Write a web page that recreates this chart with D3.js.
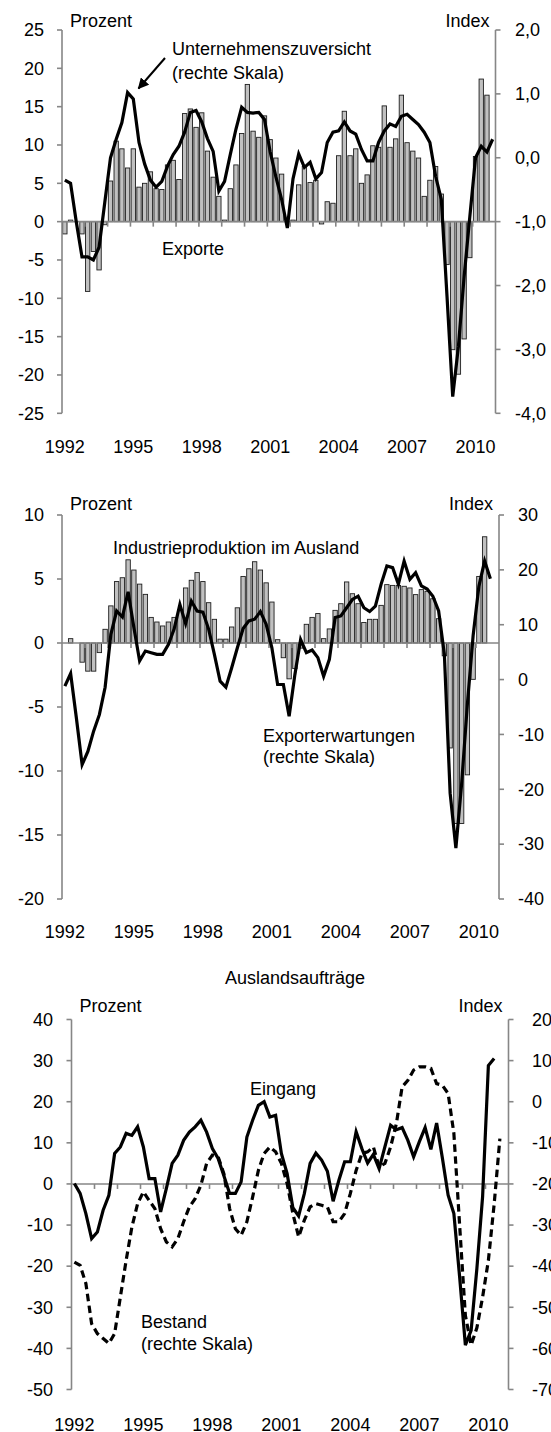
<!DOCTYPE html>
<html>
<head>
<meta charset="utf-8">
<script src="https://cdn.jsdelivr.net/npm/d3@7"></script>
<style>
  body { margin: 0; background: #fff; }
  svg { display: block; }
  text { font-family: "Liberation Sans", Arial, sans-serif; font-size: 18px; fill: #000; }
  .axis { stroke: #868686; stroke-width: 1.6; fill: none; }
  .bar { fill: #c0c0c0; stroke: #1e1e1e; stroke-width: 0.9; }
  .line { fill: none; stroke: #000; stroke-width: 3.2; }
</style>
</head>
<body>
<div id="chart"></div>
<script>
const width = 551,
    height = 1432;

// Quarterly categories 1992Q1 .. 2010Q4
const quarters = d3.range(1992, 2011).flatMap(y => [1, 2, 3, 4].map(q => y + "Q" + q));
const yearLabels = ["1992", "1995", "1998", "2001", "2004", "2007", "2010"];

// Panel 1: Exporte (bars, %) and Unternehmenszuversicht (line, index)
const exporte = [-1.6, 0.2, 0, -1.6, -9.1, -3.9, -6.3, -0.4, 5.3, 10.5,
    9.5, 7.0, 9.5, 4.5, 5.0, 6.5, 4.3, 4.2, 7.4, 8.0,
    5.5, 14.1, 14.7, 12.3, 14.2, 9.2, 5.8, 3.3, 0.2, 4.3,
    7.4, 11.5, 17.9, 11.8, 11.0, 13.8, 10.7, 8.3, 6.2, 0,
    0.2, 4.8, 7.2, 5.1, 5.4, -0.3, 2.6, 2.4, 8.6, 14.4,
    8.6, 9.5, 5.0, 6.1, 9.9, 9.7, 15.1, 9.7, 10.8, 16.5,
    10.3, 9.2, 8.3, 3.3, 5.4, 7.2, 3.6, -5.6, -16.7, -19.9,
    -15.3, -4.7, 8.5, 18.6, 16.5];
const zuversicht = [-0.35, -0.40, -1.0, -1.55, -1.55, -1.6, -1.4, -0.7, 0.0, 0.29,
    0.55, 1.02, 0.92, 0.24, -0.1, -0.35, -0.46, -0.37, -0.13, 0.05,
    0.18, 0.4, 0.71, 0.74, 0.56, 0.3, 0.1, -0.52, -0.37, 0.05,
    0.45, 0.79, 0.71, 0.7, 0.71, 0.6, 0.09, -0.3, -0.65, -1.1,
    -0.33, 0.06, -0.15, -0.07, -0.33, -0.23, 0.24, 0.4, 0.42, 0.56,
    0.42, 0.37, 0.13, -0.05, -0.05, 0.24, 0.42, 0.53, 0.49, 0.65,
    0.68, 0.6, 0.52, 0.4, 0.24, -0.29, -0.65, -2.17, -3.74, -2.95,
    -1.86, -0.92, 0.0, 0.18, 0.09, 0.29];

// Panel 2: Industrieproduktion im Ausland (bars, %) and Exporterwartungen (line, index)
const industrie = [0, 0.34, 0, -1.5, -2.2, -2.2, -0.75, 1.07, 2.9, 4.8,
    5.1, 6.5, 5.7, 4.6, 3.8, 2.0, 1.64, 1.33, 1.64, 2.0,
    2.6, 4.3, 4.9, 5.5, 4.8, 3.15, 1.85, 0.3, 0.3, 1.25,
    2.75, 5.2, 5.8, 6.35, 5.7, 4.7, 3.2, 0.26, -1.15, -2.8,
    -2.0, -0.4, 1.46, 2.0, 2.3, 0.34, 1.1, 2.55, 3.07, 4.77,
    3.85, 3.07, 1.6, 1.85, 1.85, 2.94, 4.56, 4.5, 4.5, 4.43,
    4.3, 3.78, 4.17, 4.04, 3.46, 1.9, -1.0, -8.2, -14.1, -14.1,
    -10.3, -2.84, 5.2, 8.3];
const exporterwartungen = [-1.2, 1.1, -7, -15.5, -13.1, -9.4, -6.4, -1.4, 8.25, 12.5,
    11.4, 16.0, 9.5, 3.4, 5.2, 4.9, 4.6, 4.6, 6.4, 9.2,
    13.7, 10.2, 14.3, 12.5, 12.3, 9.2, 4.6, -0.3, -1.4, 2.1,
    5.8, 9.3, 10.7, 11.0, 12.4, 10.1, 5.8, -0.9, -0.9, -6.7,
    0.9, 7.3, 4.9, 5.4, 4.0, 0.6, 3.7, 11.3, 11.6, 13.1,
    14.6, 15.2, 13.1, 12.4, 13.4, 17.4, 20.7, 20.4, 17.4, 21.6,
    18.3, 19.5, 17.1, 16.5, 15.2, 12.5, 4.6, -20.7, -30.7, -19,
    -4.5, 8, 17, 21.6, 18.4];

// Panel 3: Auslandsauftraege, Eingang (%) and Bestand (index, dashed)
const eingang = [0.1, -2.3, -7.2, -13.3, -11.7, -6.4, -2.75, 7.4, 9.0, 12.3,
    11.8, 13.9, 9.0, 1.3, 1.3, -6.8, -1.1, 5.0, 7.0, 10.6,
    12.6, 13.9, 15.5, 12.6, 8.6, 6.2, 2.0, -2.3, -2.3, 0.5,
    11.4, 15.5, 19.1, 20.0, 16.3, 16.7, 7.4, 2.5, -5.8, -7.8,
    -2.3, 5.0, 7.5, 5.8, 3.1, -4.2, 0.9, 5.4, 5.4, 12.7,
    8.6, 5.1, 7.2, 3.7, 9.0, 14.3, 13.2, 13.7, 10.6, 6.6,
    10.3, 13.7, 8.4, 14.8, 6.3, -2.75, -7.2, -22.6, -39.2, -35.6,
    -20.6, -3, 28.8, 30.5];
const bestand = [-39.0, -39.8, -44.2, -54.0, -56.4, -57.6, -58.8, -56.4, -47.5, -38.6,
    -30.5, -24.8, -21.9, -24.0, -26.0, -30.9, -34.1, -35.3, -33.3, -29.2,
    -25.6, -23.6, -20.3, -15.0, -13.0, -13.4, -17.5, -26.0, -30.9, -32.5,
    -29.2, -23.2, -16.7, -12.6, -11.0, -12.2, -15.0, -19.9, -27.2, -32.9,
    -28.8, -25.6, -24.8, -25.2, -25.6, -29.2, -29.2, -27.2, -22.3, -16.7,
    -12.6, -12.2, -11.0, -15.9, -15.0, -11.0, -5.3, 3.6, 5.2, 7.7,
    8.5, 8.5, 8.1, 4.4, 4.0, 2.0, -7.7, -30, -52, -59.2,
    -55, -47.5, -38.6, -25, -9];

const svg = d3.select("#chart").append("svg")
    .attr("width", width)
    .attr("height", height);

svg.append("defs").append("marker")
    .attr("id", "arrow")
    .attr("markerUnits", "userSpaceOnUse")
    .attr("viewBox", "0 0 10 10")
    .attr("refX", 9)
    .attr("refY", 5)
    .attr("markerWidth", 11)
    .attr("markerHeight", 11)
    .attr("orient", "auto")
  .append("path")
    .attr("d", "M0,0L10,5L0,10z")
    .attr("fill", "#000");

function drawPanel(p) {
    const g = svg.append("g");

    const x = d3.scaleBand()
        .domain(quarters)
        .range([p.left, p.right])
        .paddingInner(0.24)
        .paddingOuter(0.12);
    const gap = (x.step() - x.bandwidth()) / 2;
    const cx = i => x(quarters[i]) + x.bandwidth() / 2;

    const yL = d3.scaleLinear().domain(p.leftDomain).range([p.bottom, p.top]);
    const yR = d3.scaleLinear().domain(p.rightDomain).range([p.bottom, p.top]);

    // bars
    if (p.bars) {
        g.selectAll("rect.bar")
            .data(p.bars)
            .join("rect")
            .attr("class", "bar")
            .attr("x", (d, i) => x(quarters[i]))
            .attr("width", x.bandwidth())
            .attr("y", d => yL(Math.max(0, d)))
            .attr("height", d => Math.abs(yL(d) - yL(0)));
    }

    // left axis
    g.append("line").attr("class", "axis")
        .attr("x1", p.left).attr("x2", p.left)
        .attr("y1", yL(p.leftDomain[1])).attr("y2", yL(p.leftDomain[0]));
    g.selectAll("line.lt").data(p.leftTicks).join("line")
        .attr("class", "axis lt")
        .attr("x1", p.left - 5).attr("x2", p.left)
        .attr("y1", d => yL(d)).attr("y2", d => yL(d));
    g.selectAll("text.lt").data(p.leftTicks).join("text")
        .attr("class", "lt")
        .attr("x", p.leftLabelX)
        .attr("y", d => yL(d))
        .attr("dy", "0.35em")
        .attr("text-anchor", "end")
        .text(d => d);

    // right axis
    g.append("line").attr("class", "axis")
        .attr("x1", p.right).attr("x2", p.right)
        .attr("y1", yR(p.rightDomain[1])).attr("y2", yR(p.rightDomain[0]));
    g.selectAll("line.rt").data(p.rightTicks).join("line")
        .attr("class", "axis rt")
        .attr("x1", p.right).attr("x2", p.right + 5)
        .attr("y1", d => yR(d)).attr("y2", d => yR(d));
    g.selectAll("text.rt").data(p.rightTicks).join("text")
        .attr("class", "rt")
        .attr("x", p.rightLabelX)
        .attr("y", d => yR(d))
        .attr("dy", "0.35em")
        .text(p.rightFormat);

    // zero line with yearly ticks
    g.append("line").attr("class", "axis")
        .attr("x1", p.left).attr("x2", p.right)
        .attr("y1", yL(0)).attr("y2", yL(0));
    const yearStarts = quarters.filter((q, i) => i > 0 && i % 4 === 0);
    g.selectAll("line.xt").data(yearStarts).join("line")
        .attr("class", "axis xt")
        .attr("x1", d => x(d) - gap).attr("x2", d => x(d) - gap)
        .attr("y1", yL(0)).attr("y2", yL(0) + 5);

    // year labels
    g.selectAll("text.xl").data(yearLabels).join("text")
        .attr("class", "xl")
        .attr("x", d => x(d + "Q1") + x.bandwidth() / 2)
        .attr("y", p.xLabelY)
        .attr("dy", "0.35em")
        .attr("text-anchor", "middle")
        .text(d => d);

    // lines
    p.lines.forEach(l => {
        const y = l.axis === "right" ? yR : yL;
        g.append("path")
            .datum(l.values)
            .attr("class", "line")
            .attr("stroke-dasharray", l.dash || null)
            .attr("d", d3.line().x((d, i) => cx(i)).y(d => y(d)));
    });

    // unit labels
    g.append("text").attr("x", p.left + 8).attr("y", p.unitY).text("Prozent");
    g.append("text").attr("x", p.right - 6).attr("y", p.unitY)
        .attr("text-anchor", "end").text("Index");

    p.notes.forEach(n => {
        g.append("text").attr("x", n.x).attr("y", n.y).text(n.text);
    });
}

const fmtComma = d => d.toFixed(1).replace(".", ",");

drawPanel({
    left: 62, right: 495.5, top: 30, bottom: 413.3,
    leftDomain: [-25, 25], rightDomain: [-4, 2],
    leftTicks: d3.range(-25, 26, 5), rightTicks: d3.range(-4, 3, 1),
    rightFormat: fmtComma,
    leftLabelX: 44, rightLabelX: 515, xLabelY: 447, unitY: 27,
    bars: exporte,
    lines: [{values: zuversicht, axis: "right"}],
    notes: [
        {text: "Unternehmenszuversicht", x: 172, y: 54.5},
        {text: "(rechte Skala)", x: 172, y: 79},
        {text: "Exporte", x: 162, y: 254.5}
    ]
});

// arrow to the confidence line
svg.append("line")
    .attr("x1", 165).attr("y1", 58)
    .attr("x2", 138.5).attr("y2", 88.5)
    .attr("stroke", "#000")
    .attr("stroke-width", 2)
    .attr("marker-end", "url(#arrow)");

drawPanel({
    left: 62, right: 499, top: 515, bottom: 899,
    leftDomain: [-20, 10], rightDomain: [-40, 30],
    leftTicks: d3.range(-20, 11, 5), rightTicks: d3.range(-40, 31, 10),
    rightFormat: d => d,
    leftLabelX: 44, rightLabelX: 518, xLabelY: 932, unitY: 509.5,
    bars: industrie,
    lines: [{values: exporterwartungen, axis: "right"}],
    notes: [
        {text: "Industrieproduktion im Ausland", x: 113, y: 553.5},
        {text: "Exporterwartungen", x: 263, y: 741.5},
        {text: "(rechte Skala)", x: 263, y: 762.5}
    ]
});

drawPanel({
    left: 71.5, right: 508.5, top: 1019.5, bottom: 1389.5,
    leftDomain: [-50, 40], rightDomain: [-70, 20],
    leftTicks: d3.range(-50, 41, 10), rightTicks: d3.range(-70, 21, 10),
    rightFormat: d => d,
    leftLabelX: 53, rightLabelX: 532, xLabelY: 1425, unitY: 1012,
    bars: null,
    lines: [
        {values: bestand, axis: "right", dash: "7.5,4.5"},
        {values: eingang, axis: "left"}
    ],
    notes: [
        {text: "Eingang", x: 250, y: 1094.5},
        {text: "Bestand", x: 141, y: 1328},
        {text: "(rechte Skala)", x: 141, y: 1349.5}
    ]
});

svg.append("text")
    .attr("x", 295).attr("y", 983.5)
    .attr("text-anchor", "middle")
    .text("Auslandsaufträge");
</script>
</body>
</html>
